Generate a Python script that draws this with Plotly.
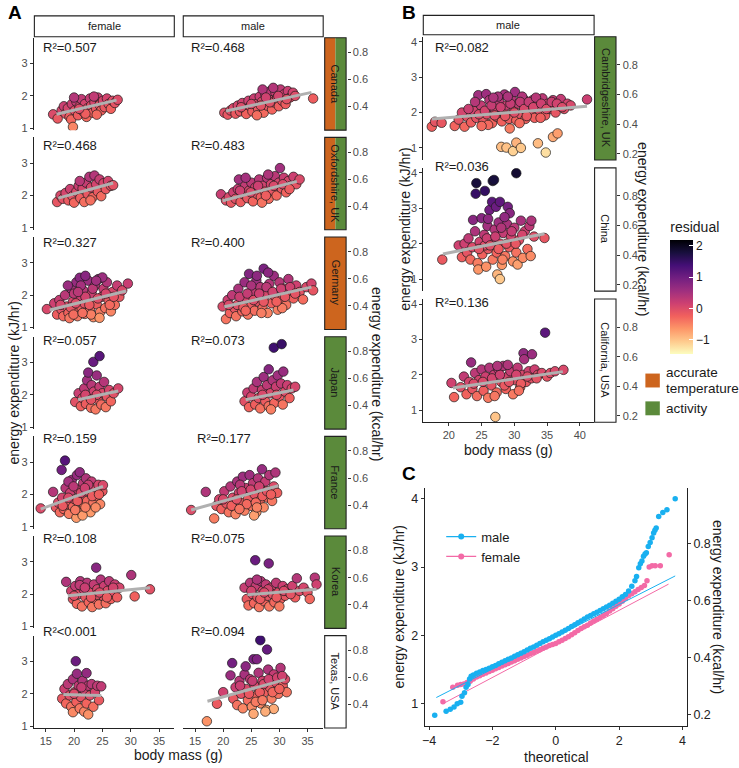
import numpy as np
import plotly.graph_objects as go

# ---------------- data ----------------
KJ_PER_KCAL = 4.184

# panel A: (body mass g, energy expenditure kJ/hr) per site and sex
sites_a = ["Canada", "Oxfordshire, UK", "Germany", "Japan", "France", "Korea", "Texas, USA"]
site_flags_a = [["temp", "activity"], ["temp", "activity"], ["temp"], ["activity"],
                ["activity"], ["activity"], []]
r2_female = ["R²=0.507", "R²=0.468", "R²=0.327", "R²=0.057", "R²=0.159", "R²=0.108", "R²<0.001"]
r2_male = ["R²=0.468", "R²=0.483", "R²=0.400", "R²=0.073", "R²=0.177", "R²=0.075", "R²=0.094"]
# fitted lines (start, end) as drawn in each panel
fit_female_a = [((16.9, 1.43), (27.5, 1.87)), ((17.2, 1.92), (26.9, 2.39)), ((15.7, 1.54), (29.2, 2.13)),
                ((20.7, 1.85), (27.8, 2.12)), ((14.1, 1.55), (25.1, 2.25)), ((18.9, 1.95), (33.4, 2.20)),
                ((18.1, 1.98), (24.8, 1.95))]
fit_male_a = [((20.5, 1.53), (35.7, 2.11)), ((19.9, 1.84), (33.1, 2.44)), ((20.2, 1.64), (35.7, 2.25)),
              ((24.0, 1.85), (32.5, 2.15)), ((14.3, 1.52), (29.8, 2.27)), ((24.3, 1.98), (36.6, 2.15)),
              ((17.2, 1.77), (31.0, 2.44))]

can_f = [(16.3, 1.43), (17.1, 1.30), (17.8, 1.55), (18.2, 1.68), (18.5, 1.45), (18.9, 1.62),
         (19.2, 1.35), (19.5, 1.27), (19.8, 1.04), (19.6, 1.75), (20.1, 1.55), (20.4, 1.82),
         (20.7, 1.40), (21.0, 1.68), (21.3, 1.90), (21.6, 1.52), (21.9, 1.75), (22.2, 1.35),
         (22.4, 1.62), (22.8, 1.92), (23.0, 1.70), (23.3, 1.48), (23.6, 1.80), (23.9, 1.60),
         (24.2, 1.95), (24.5, 1.72), (24.8, 1.55), (25.1, 1.85), (25.4, 1.65), (25.8, 1.92),
         (26.1, 1.75), (26.5, 1.60), (26.8, 1.85), (27.2, 1.78), (27.7, 1.88), (20.0, 1.95),
         (22.0, 1.45), (23.5, 1.98), (20.9, 1.60), (24.0, 1.42)]
can_m = [(20.2, 1.48), (20.8, 1.42), (21.3, 1.55), (21.8, 1.62), (22.2, 1.45), (22.6, 1.70),
         (23.0, 1.52), (23.4, 1.78), (23.8, 1.60), (24.1, 1.44), (24.5, 1.85), (24.8, 1.68),
         (25.2, 1.52), (25.5, 1.92), (25.9, 1.75), (26.2, 1.60), (26.5, 1.98), (26.9, 1.82),
         (27.2, 1.48), (27.5, 2.05), (27.8, 1.70), (28.1, 1.90), (28.4, 2.15), (28.7, 1.58),
         (29.0, 1.80), (29.3, 2.10), (29.6, 1.95), (29.9, 1.68), (30.2, 2.20), (30.5, 1.85),
         (30.8, 2.05), (31.1, 1.75), (31.5, 2.15), (31.9, 1.95), (32.4, 2.10), (32.8, 2.00),
         (36.0, 1.92), (26.0, 1.40), (27.0, 2.20), (28.9, 2.25), (23.2, 1.65), (25.0, 1.75),
         (26.7, 1.70), (28.3, 1.80), (29.8, 2.00), (31.3, 1.90), (27.6, 1.95)]
oxf_f = [(17.0, 1.80), (17.6, 2.00), (18.0, 1.90), (18.5, 2.08), (19.0, 1.85), (19.3, 2.20),
         (19.7, 1.98), (20.0, 1.78), (20.4, 2.12), (20.8, 2.30), (21.1, 1.92), (21.5, 2.22),
         (21.8, 1.80), (22.1, 2.40), (22.4, 2.05), (22.7, 2.58), (23.0, 2.25), (23.3, 1.95),
         (23.6, 2.62), (23.9, 2.35), (24.2, 2.12), (24.5, 2.50), (24.8, 1.98), (25.2, 2.38),
         (25.6, 2.20), (26.0, 2.45), (26.5, 2.30), (26.9, 2.32), (21.0, 2.45), (22.9, 1.85)]
oxf_m = [(19.6, 2.04), (20.5, 1.85), (21.0, 1.95), (21.4, 1.78), (21.8, 2.10), (22.2, 1.90),
         (22.8, 2.50), (22.6, 2.20), (23.1, 1.80), (23.5, 2.05), (23.9, 2.30), (24.3, 1.92),
         (24.6, 2.15), (25.0, 2.40), (25.3, 1.82), (25.7, 2.25), (26.0, 2.05), (26.4, 2.50),
         (26.7, 1.95), (27.0, 2.30), (27.4, 2.12), (27.8, 2.55), (28.1, 1.90), (28.5, 2.35),
         (28.8, 2.15), (29.2, 2.60), (29.5, 2.00), (29.9, 2.40), (30.1, 2.85), (30.4, 2.22),
         (30.8, 2.55), (31.2, 2.10), (31.6, 2.45), (32.0, 2.30), (32.5, 2.58), (33.0, 2.35),
         (33.6, 2.50), (24.0, 2.55), (26.9, 1.78), (28.0, 2.65), (23.0, 2.15), (24.9, 2.10),
         (26.2, 2.30), (27.6, 2.00), (29.0, 2.30), (30.6, 2.35), (31.8, 2.20)]
ger_f = [(15.2, 1.57), (16.5, 1.75), (17.0, 1.40), (17.4, 1.85), (17.8, 1.55), (18.1, 1.35),
         (18.4, 2.00), (18.7, 1.65), (19.0, 1.45), (19.2, 1.29), (19.5, 2.20), (19.8, 1.80),
         (20.1, 1.52), (20.4, 2.40), (20.6, 1.35), (20.9, 1.95), (21.0, 2.54), (21.3, 1.62),
         (21.6, 2.15), (21.9, 1.42), (22.2, 1.85), (22.5, 2.45), (22.8, 1.55), (23.1, 2.05),
         (23.4, 1.32), (23.7, 2.30), (24.0, 1.72), (24.3, 2.50), (24.6, 1.48), (24.9, 1.95),
         (25.2, 2.20), (25.5, 1.60), (25.8, 2.40), (26.1, 1.85), (26.5, 1.50), (26.8, 2.10),
         (27.2, 1.70), (27.6, 2.30), (28.0, 1.95), (28.5, 2.15), (29.5, 2.36), (20.0, 2.05),
         (22.0, 2.60), (23.0, 1.40), (24.5, 1.30), (18.9, 2.30), (21.8, 1.75), (25.0, 2.55),
         (17.6, 1.70), (19.4, 1.62), (20.3, 1.75), (21.2, 2.30), (22.0, 1.95), (22.7, 1.70),
         (23.3, 2.20), (24.2, 1.90), (25.6, 2.05), (26.3, 1.70), (27.0, 1.95), (19.9, 1.40),
         (21.5, 1.45), (23.9, 2.45), (20.7, 2.10)]
ger_m = [(19.9, 1.65), (20.5, 1.26), (20.8, 1.85), (21.2, 1.45), (21.6, 2.00), (22.0, 1.60),
         (22.3, 1.35), (22.7, 2.20), (23.0, 1.75), (23.4, 1.50), (23.8, 2.40), (24.1, 1.90),
         (24.6, 2.66), (24.4, 1.40), (24.9, 1.65), (25.2, 2.10), (25.6, 1.52), (25.9, 2.45),
         (26.2, 1.80), (26.6, 2.25), (27.0, 1.60), (27.2, 2.82), (27.5, 2.00), (27.9, 1.45),
         (28.2, 2.35), (28.6, 1.75), (29.0, 2.60), (29.3, 1.95), (29.7, 1.55), (30.0, 2.40),
         (30.4, 1.85), (30.8, 2.20), (31.2, 1.70), (31.6, 2.50), (32.0, 2.05), (32.5, 1.90),
         (33.0, 2.30), (33.6, 2.10), (34.2, 1.87), (34.8, 2.25), (35.7, 2.36), (36.0, 2.15),
         (26.0, 2.60), (28.0, 2.70), (22.5, 1.70), (30.5, 1.60), (25.0, 2.30), (21.0, 1.70),
         (22.9, 1.95), (23.6, 1.62), (24.3, 2.05), (25.4, 1.85), (26.4, 2.05), (27.2, 1.80),
         (27.7, 2.25), (28.8, 2.10), (29.5, 1.80), (30.3, 2.20), (31.0, 1.95), (31.9, 2.25),
         (32.8, 2.05), (26.8, 1.45), (24.0, 1.52)]
jpn_f = [(20.2, 1.78), (20.8, 2.05), (21.2, 1.65), (21.5, 1.90), (21.8, 2.20), (22.1, 1.72),
         (22.3, 2.45), (22.5, 2.69), (22.7, 1.95), (23.0, 1.60), (23.1, 2.30), (23.4, 3.02),
         (23.5, 2.10), (23.8, 1.55), (24.0, 2.60), (24.2, 1.85), (24.5, 3.20), (24.5, 2.25),
         (24.8, 1.70), (25.0, 2.05), (25.3, 2.40), (25.6, 1.62), (25.8, 1.95), (26.2, 2.15),
         (26.5, 1.80), (27.0, 2.05), (27.8, 2.20), (22.0, 2.00), (24.0, 2.00), (23.0, 1.85)]
jpn_m = [(23.8, 1.80), (24.3, 2.07), (24.6, 1.62), (25.0, 1.95), (25.4, 2.20), (25.7, 1.70),
         (26.0, 2.40), (26.3, 1.90), (26.6, 1.58), (26.9, 2.15), (27.2, 2.55), (27.5, 1.80),
         (27.8, 2.30), (28.1, 2.79), (28.1, 1.65), (28.4, 2.05), (28.8, 2.45), (29.0, 3.46),
         (29.1, 1.75), (29.4, 2.25), (29.7, 2.60), (30.0, 1.95), (30.4, 3.57), (30.3, 2.35),
         (30.7, 2.72), (30.6, 1.70), (31.0, 2.10), (31.4, 2.30), (31.8, 1.90), (32.2, 2.20),
         (32.8, 2.25), (27.0, 2.00), (28.5, 1.55), (29.5, 2.00)]
fra_f = [(14.1, 1.57), (16.3, 2.08), (16.8, 1.60), (17.2, 1.75), (17.5, 1.45), (17.8, 2.76),
         (17.9, 1.90), (18.2, 1.55), (18.4, 3.05), (18.5, 2.20), (18.8, 1.70), (19.1, 1.40),
         (19.3, 2.05), (19.6, 2.45), (19.8, 1.62), (20.1, 1.85), (20.4, 1.28), (20.5, 2.60),
         (20.7, 2.15), (21.0, 1.50), (21.0, 2.69), (21.3, 1.95), (21.6, 2.35), (21.8, 1.65),
         (22.1, 2.50), (22.3, 1.80), (22.6, 2.10), (22.9, 1.45), (23.1, 2.40), (23.4, 1.75),
         (23.7, 2.20), (24.0, 1.95), (24.3, 2.30), (24.6, 1.70), (25.0, 2.10), (25.1, 2.29),
         (19.0, 2.40), (21.5, 1.35), (18.0, 1.65), (19.0, 1.90), (19.9, 2.25), (20.6, 1.80),
         (21.2, 2.05), (22.0, 1.60), (22.5, 2.30), (23.2, 1.95), (23.8, 1.60), (24.4, 2.00),
         (20.2, 1.52), (21.9, 2.20)]
fra_m = [(14.3, 1.52), (16.9, 2.08), (18.4, 1.26), (18.8, 1.65), (19.3, 1.85), (19.7, 1.55),
         (20.2, 2.10), (20.6, 1.72), (21.0, 1.45), (21.3, 2.25), (21.7, 1.90), (22.0, 1.60),
         (22.2, 1.39), (22.5, 2.40), (22.8, 2.05), (23.1, 1.75), (23.5, 2.55), (23.8, 1.50),
         (24.0, 2.20), (24.4, 1.85), (24.7, 2.60), (25.0, 1.65), (25.3, 2.35), (25.6, 2.00),
         (25.9, 1.45), (26.2, 2.50), (26.5, 1.80), (26.9, 2.78), (26.8, 2.15), (27.2, 1.60),
         (27.5, 2.40), (27.9, 1.90), (28.2, 2.60), (28.7, 1.80), (29.0, 2.25), (29.3, 2.68),
         (29.6, 2.05), (23.0, 2.30), (25.5, 1.35), (20.0, 1.85), (21.5, 1.65), (22.4, 1.85),
         (23.3, 2.10), (24.2, 1.70), (24.9, 2.15), (25.8, 1.75), (26.4, 2.25), (27.0, 1.95),
         (27.8, 2.10), (28.5, 2.00), (22.9, 1.55), (26.0, 1.60)]
kor_f = [(18.6, 2.38), (19.5, 2.10), (19.8, 1.85), (20.2, 2.25), (20.5, 1.70), (20.8, 2.00),
         (21.1, 2.40), (21.4, 1.62), (21.7, 2.15), (22.0, 1.90), (22.3, 2.35), (22.6, 1.75),
         (22.9, 2.05), (23.2, 1.60), (23.5, 2.30), (23.9, 2.82), (23.8, 1.85), (24.1, 2.15),
         (24.4, 1.68), (24.7, 2.45), (25.0, 1.95), (25.3, 2.25), (25.6, 1.72), (25.9, 2.10),
         (26.2, 2.40), (26.5, 1.85), (26.8, 2.05), (27.2, 2.30), (27.6, 1.90), (28.0, 2.20),
         (30.1, 2.59), (30.7, 1.93), (33.4, 2.15), (21.0, 2.28), (24.0, 1.98), (20.0, 1.95),
         (21.9, 2.20), (23.0, 1.90), (24.5, 2.05), (25.8, 1.90), (26.9, 2.20)]
kor_m = [(23.8, 2.20), (24.2, 1.85), (24.5, 1.65), (24.8, 2.35), (25.2, 2.00), (25.5, 1.72),
         (25.7, 3.05), (25.8, 2.25), (26.1, 1.90), (26.4, 1.60), (26.7, 2.40), (27.0, 2.10),
         (27.3, 1.78), (27.6, 2.30), (27.9, 1.95), (28.1, 2.95), (28.2, 1.62), (28.5, 2.20),
         (28.8, 2.00), (29.1, 1.75), (29.4, 2.35), (29.8, 2.05), (30.2, 1.85), (30.6, 2.25),
         (31.0, 1.95), (31.4, 2.15), (31.8, 2.05), (32.3, 2.25), (32.8, 1.90), (33.1, 2.49),
         (33.6, 2.10), (34.3, 2.20), (35.0, 2.05), (35.4, 1.85), (36.3, 2.51), (36.6, 2.30),
         (26.0, 2.45), (30.0, 1.62), (25.0, 2.10), (26.6, 1.85), (28.0, 2.15), (29.5, 1.90),
         (30.8, 2.10), (32.0, 2.00), (27.3, 2.05)]
tex_f = [(17.9, 1.85), (18.3, 2.15), (18.6, 1.70), (18.9, 2.30), (19.2, 1.95), (19.5, 1.60),
         (19.8, 1.43), (19.8, 2.45), (20.1, 2.05), (20.3, 3.01), (20.4, 1.75), (20.5, 2.62),
         (20.8, 2.25), (21.0, 1.55), (21.2, 1.90), (21.5, 2.40), (21.8, 1.45), (21.9, 2.10),
         (22.2, 2.64), (22.2, 1.70), (22.5, 1.36), (22.5, 2.25), (22.8, 1.95), (23.1, 2.30),
         (23.4, 1.60), (23.7, 2.05), (24.1, 2.25), (24.4, 1.80), (24.8, 2.23), (20.0, 2.00),
         (21.3, 2.20)]
tex_m = [(17.1, 1.15), (18.9, 1.69), (20.0, 2.05), (21.3, 2.57), (21.6, 2.95), (21.8, 1.85),
         (22.2, 2.20), (22.5, 1.65), (22.9, 2.40), (23.2, 2.00), (23.5, 1.55), (23.8, 2.60),
         (24.1, 2.15), (24.4, 1.80), (24.8, 2.45), (25.1, 1.60), (25.4, 3.07), (25.4, 1.38),
         (25.6, 2.25), (26.0, 3.07), (26.0, 1.95), (26.3, 2.65), (26.6, 3.66), (26.7, 1.70),
         (27.0, 2.40), (27.3, 2.05), (27.8, 3.37), (27.7, 1.50), (28.0, 2.75), (28.3, 2.20),
         (28.6, 1.85), (29.0, 1.53), (29.0, 2.60), (29.4, 2.35), (29.8, 2.00), (30.2, 2.80),
         (30.6, 2.25), (31.0, 2.45), (31.3, 2.05), (24.0, 2.85), (27.5, 1.45), (23.0, 2.25),
         (24.6, 2.00), (25.2, 2.40), (26.5, 2.05), (27.2, 2.30), (28.1, 2.45), (28.8, 2.05),
         (29.6, 2.50), (30.0, 2.15), (25.8, 1.75), (27.0, 1.80), (30.5, 2.55)]

# panel B: males only
sites_b = ["Cambridgeshire, UK", "China", "California, USA"]
site_flags_b = [["activity"], [], []]
r2_b = ["R²=0.082", "R²=0.036", "R²=0.136"]
fit_b = [((17.4, 1.82), (41.1, 2.18)), ((19.1, 1.71), (34.6, 2.28)), ((20.6, 1.63), (37.4, 2.09))]

cam_m = [(17.4, 1.60), (17.9, 1.74), (18.9, 1.71), (20.9, 1.62), (22.4, 1.60), (21.5, 1.80),
         (22.8, 1.88), (23.4, 1.72), (23.8, 2.05), (24.5, 2.49), (24.2, 1.85), (24.9, 2.20),
         (25.3, 1.78), (25.7, 2.52), (25.8, 1.95), (26.2, 2.35), (26.6, 1.70), (27.0, 2.10),
         (27.3, 1.88), (27.7, 2.30), (28.0, 1.03), (28.1, 1.75), (28.5, 2.51), (28.4, 2.00),
         (28.8, 1.01), (28.8, 2.20), (29.2, 1.82), (29.3, 1.55), (29.6, 2.40), (29.8, 0.91),
         (29.9, 2.05), (30.1, 2.58), (30.3, 1.15), (30.3, 1.78), (30.6, 2.25), (31.0, 1.00),
         (31.0, 1.95), (31.4, 2.38), (31.7, 1.82), (32.0, 2.15), (32.4, 2.00), (32.8, 2.35),
         (33.1, 1.85), (33.6, 1.13), (33.5, 2.20), (33.9, 2.05), (34.3, 2.40), (34.7, 1.92),
         (34.8, 0.87), (35.1, 2.25), (35.5, 2.10), (35.9, 1.31), (35.9, 2.35), (36.3, 2.00),
         (36.6, 1.41), (36.7, 2.20), (37.1, 2.38), (37.6, 2.10), (38.1, 2.25), (38.6, 2.20),
         (41.1, 2.37), (26.0, 1.65), (27.5, 2.45), (30.8, 1.70), (24.0, 2.30), (22.0, 2.00),
         (25.0, 1.62), (31.2, 2.45), (34.0, 1.85), (23.0, 2.10), (24.6, 1.95), (25.5, 2.05),
         (26.5, 2.20), (27.0, 1.92), (27.9, 2.15), (28.6, 1.90), (29.4, 2.25), (30.0, 2.00),
         (30.9, 2.30), (31.5, 2.10), (32.2, 2.30), (32.9, 2.15), (33.3, 2.42), (34.1, 2.25),
         (34.9, 2.10), (35.7, 2.30), (36.5, 2.25), (37.3, 2.15), (26.8, 2.42), (29.0, 2.45),
         (31.9, 1.90)]
chn_m = [(19.0, 1.55), (21.5, 1.95), (22.0, 1.62), (22.4, 2.00), (22.8, 1.75), (23.0, 2.15),
         (23.3, 1.55), (23.7, 2.67), (23.6, 1.90), (24.0, 2.35), (24.1, 3.41), (24.2, 3.71),
         (24.4, 1.45), (24.5, 1.27), (24.7, 2.05), (25.0, 2.72), (25.1, 1.70), (25.4, 2.25),
         (25.5, 3.49), (25.7, 1.35), (25.9, 2.50), (26.0, 1.85), (26.2, 2.95), (26.4, 2.10),
         (26.6, 3.18), (26.7, 3.77), (26.9, 3.80), (26.7, 1.55), (27.0, 2.40), (27.2, 3.04),
         (27.3, 1.75), (27.4, 1.13), (27.6, 2.60), (27.8, 3.18), (27.8, 1.00), (27.8, 2.00),
         (28.1, 1.40), (28.3, 2.30), (28.6, 1.65), (28.9, 2.55), (29.0, 3.04), (29.2, 1.90),
         (29.3, 2.86), (29.5, 2.20), (29.8, 1.50), (30.0, 2.45), (30.3, 3.99), (30.3, 1.75),
         (30.5, 1.41), (30.7, 2.10), (31.0, 2.65), (31.3, 1.60), (31.6, 2.35), (32.0, 1.85),
         (32.3, 2.50), (32.6, 2.65), (32.5, 1.65), (33.0, 2.20), (34.6, 2.16), (25.5, 1.95),
         (28.5, 2.75), (24.6, 1.85), (25.8, 2.15), (26.3, 1.95), (27.1, 2.20), (27.6, 1.85),
         (28.0, 2.45), (28.8, 2.00), (29.6, 2.35), (30.2, 2.00), (31.2, 2.25), (26.0, 2.70),
         (28.2, 1.55)]
cal_m = [(20.4, 1.77), (20.8, 1.37), (21.8, 1.65), (22.3, 1.95), (22.7, 1.45), (23.1, 1.80),
         (23.4, 2.35), (23.6, 1.60), (24.0, 2.05), (24.3, 1.40), (24.6, 1.85), (25.0, 2.15),
         (25.3, 1.55), (25.6, 1.95), (26.0, 1.35), (26.2, 2.20), (26.5, 1.70), (26.9, 2.00),
         (27.1, 0.81), (27.3, 1.50), (27.6, 2.15), (28.0, 1.80), (28.3, 2.25), (28.7, 1.60),
         (29.0, 1.95), (29.4, 2.10), (29.8, 1.45), (30.1, 1.85), (30.5, 2.20), (30.9, 1.65),
         (31.3, 2.00), (31.4, 2.61), (31.5, 2.44), (31.8, 1.80), (32.2, 2.10), (32.7, 2.58),
         (32.6, 1.90), (33.1, 2.15), (33.6, 2.00), (34.2, 2.05), (34.7, 3.19), (35.0, 1.95),
         (35.5, 2.05), (36.2, 2.10), (37.5, 2.14), (27.0, 1.40), (29.0, 2.28), (23.8, 1.75),
         (25.2, 1.80), (26.6, 1.90), (27.8, 2.00), (28.5, 1.70), (29.2, 1.80), (30.3, 2.00),
         (31.0, 1.75), (32.0, 1.95), (33.4, 1.90), (27.4, 2.25), (30.7, 1.55)]

# panel C: normal QQ plot (theoretical quantile, energy expenditure kJ/hr)
qq_male = [(-3.82, 0.83), (-3.46, 0.89), (-3.33, 0.92), (-3.21, 0.95), (-3.11, 1.00), (-3.00, 1.02),
           (-2.96, 1.11), (-2.88, 1.16), (-2.83, 1.24), (-2.77, 1.28), (-2.72, 1.36), (-2.67, 1.40),
           (-2.6, 1.42), (-2.5, 1.445), (-2.4, 1.465), (-2.3, 1.485), (-2.2, 1.50), (-2.1, 1.52),
           (-2.0, 1.54), (-1.9, 1.56), (-1.8, 1.585), (-1.7, 1.605), (-1.6, 1.63), (-1.5, 1.65),
           (-1.4, 1.67), (-1.3, 1.695), (-1.2, 1.715), (-1.1, 1.74), (-1.0, 1.76), (-0.9, 1.785),
           (-0.8, 1.81), (-0.7, 1.83), (-0.6, 1.855), (-0.5, 1.88), (-0.4, 1.905), (-0.3, 1.93),
           (-0.2, 1.95), (-0.1, 1.975), (0.0, 2.00), (0.1, 2.025), (0.2, 2.05), (0.3, 2.075),
           (0.4, 2.10), (0.5, 2.13), (0.6, 2.155), (0.7, 2.185), (0.8, 2.21), (0.9, 2.24),
           (1.0, 2.27), (1.1, 2.29), (1.2, 2.315), (1.3, 2.34), (1.4, 2.365), (1.5, 2.39),
           (1.6, 2.415), (1.7, 2.44), (1.8, 2.47), (1.9, 2.50), (2.0, 2.53), (2.1, 2.565),
           (2.2, 2.60), (2.3, 2.65), (2.4, 2.72), (2.5, 2.80), (2.55, 2.86), (2.62, 2.99),
           (2.67, 3.05), (2.72, 3.09), (2.77, 3.16), (2.82, 3.19), (2.86, 3.21), (2.92, 3.30),
           (2.98, 3.36), (3.04, 3.43), (3.09, 3.50), (3.13, 3.54), (3.17, 3.57), (3.25, 3.74),
           (3.38, 3.80), (3.51, 3.84), (3.77, 4.00)]
qq_female = [(-3.56, 1.03), (-3.25, 1.24), (-3.10, 1.27), (-3.00, 1.28), (-2.9, 1.29), (-2.8, 1.31),
             (-2.7, 1.33), (-2.6, 1.36), (-2.5, 1.39), (-2.4, 1.41), (-2.3, 1.43), (-2.2, 1.45),
             (-2.1, 1.47), (-2.0, 1.49), (-1.9, 1.51), (-1.8, 1.53), (-1.7, 1.55), (-1.6, 1.57),
             (-1.5, 1.59), (-1.4, 1.61), (-1.3, 1.63), (-1.2, 1.65), (-1.1, 1.67), (-1.0, 1.69),
             (-0.9, 1.71), (-0.8, 1.73), (-0.7, 1.75), (-0.6, 1.77), (-0.5, 1.79), (-0.4, 1.81),
             (-0.3, 1.83), (-0.2, 1.85), (-0.1, 1.865), (0.0, 1.88), (0.1, 1.905), (0.2, 1.93),
             (0.3, 1.955), (0.4, 1.98), (0.5, 2.01), (0.6, 2.04), (0.7, 2.07), (0.8, 2.10),
             (0.9, 2.125), (1.0, 2.15), (1.1, 2.18), (1.2, 2.21), (1.3, 2.235), (1.4, 2.26),
             (1.5, 2.29), (1.6, 2.32), (1.7, 2.355), (1.8, 2.39), (1.9, 2.425), (2.0, 2.46),
             (2.1, 2.50), (2.2, 2.54), (2.3, 2.58), (2.4, 2.61), (2.5, 2.64), (2.6, 2.67),
             (2.7, 2.70), (2.8, 2.73), (2.88, 2.80), (2.95, 3.00), (3.04, 3.02), (3.14, 3.02),
             (3.30, 3.02), (3.58, 3.18)]
qqline_male = [(-3.77, 1.09), (3.77, 2.87)]
qqline_female = [(-3.56, 1.00), (3.56, 2.75)]

# ---------------- styling ----------------
W, H = 739, 768
FONT = "Liberation Sans, Arial, sans-serif"
ORANGE = "#cd651e"
GREEN = "#5b8a3b"
BLUE = "#19b0f0"
PINK = "#f36aa6"
magma = ["#000004", "#180f3d", "#440f76", "#721f81", "#9e2f7f",
         "#cd4071", "#f1605d", "#fd9668", "#feca8d", "#fcfdbf"]


def px(x):
    return x / W


def py(y):
    return 1 - y / H


fig = go.Figure()
lay = {}
shapes = []
notes = []
nx = 0
ny = 0

tick_font = dict(family=FONT, size=11, color="#4d4d4d")


def new_x(dom, rng, show):
    global nx
    nx += 1
    name = "xaxis" if nx == 1 else f"xaxis{nx}"
    ref = "x" if nx == 1 else f"x{nx}"
    lay[name] = dict(domain=[px(dom[0]), px(dom[1])], range=rng, showgrid=False, zeroline=False,
                     showline=show, linecolor="#222", linewidth=1,
                     ticks="outside" if show else "", ticklen=3, tickcolor="#333",
                     showticklabels=show, tickfont=tick_font)
    return name, ref


def new_y(dom, rng, show):
    global ny
    ny += 1
    name = "yaxis" if ny == 1 else f"yaxis{ny}"
    ref = "y" if ny == 1 else f"y{ny}"
    lay[name] = dict(domain=[py(dom[1]), py(dom[0])], range=rng, showgrid=False, zeroline=False,
                     showline=show, linecolor="#222", linewidth=1,
                     ticks="outside" if show else "", ticklen=3, tickcolor="#333",
                     showticklabels=show, tickfont=tick_font)
    return name, ref


def kcal_axis(over_ref, xref, yrng, pos, vals):
    global ny
    ny += 1
    name = f"yaxis{ny}"
    ref = f"y{ny}"
    lay[name] = dict(overlaying=over_ref, side="right", anchor="free", position=px(pos),
                     range=[yrng[0] / KJ_PER_KCAL, yrng[1] / KJ_PER_KCAL], tickvals=vals,
                     showgrid=False, zeroline=False, showline=False, ticks="outside",
                     ticklen=3, tickcolor="#333", tickfont=tick_font)
    fig.add_trace(go.Scatter(x=[], y=[], xaxis=xref, yaxis=ref, showlegend=False,
                             hoverinfo="skip"))


def scatter_panel(pts, fit, xref, yref):
    mass = np.array([p[0] for p in pts])
    ee = np.array([p[1] for p in pts])
    (fx0, fy0), (fx1, fy1) = fit
    slope = (fy1 - fy0) / (fx1 - fx0)
    resid = ee - (fy0 + slope * (mass - fx0))
    fig.add_trace(go.Scatter(x=mass, y=ee, mode="markers", xaxis=xref, yaxis=yref,
                             showlegend=False,
                             marker=dict(size=9.5, color=resid, coloraxis="coloraxis",
                                         line=dict(color="#1a1a1a", width=0.7))))
    fig.add_trace(go.Scatter(x=[fx0, fx1], y=[fy0, fy1], mode="lines", xaxis=xref, yaxis=yref,
                             showlegend=False, line=dict(color="#b0b0b0", width=3)))


def text(x, y, s, size=11, angle=0, xa="center", ya="middle", color="#1a1a1a", bold=False):
    notes.append(dict(x=px(x), y=py(y), xref="paper", yref="paper", text=f"<b>{s}</b>" if bold else s,
                      showarrow=False, textangle=angle, xanchor=xa, yanchor=ya,
                      font=dict(family=FONT, size=size, color=color)))


def box(x0, y0, x1, y1, fill="white", lw=1.1):
    shapes.append(dict(type="rect", xref="paper", yref="paper", x0=px(x0), x1=px(x1),
                       y0=py(y1), y1=py(y0), fillcolor=fill, line=dict(color="#222", width=lw),
                       layer="below"))


def side_strip(x0, x1, y0, y1, flags, label):
    if flags == ["temp", "activity"]:
        xm = (x0 + x1) / 2
        shapes.append(dict(type="rect", xref="paper", yref="paper", x0=px(x0), x1=px(xm),
                           y0=py(y1), y1=py(y0), fillcolor=ORANGE, line=dict(width=0), layer="below"))
        shapes.append(dict(type="rect", xref="paper", yref="paper", x0=px(xm), x1=px(x1),
                           y0=py(y1), y1=py(y0), fillcolor=GREEN, line=dict(width=0), layer="below"))
        shapes.append(dict(type="rect", xref="paper", yref="paper", x0=px(x0), x1=px(x1),
                           y0=py(y1), y1=py(y0), line=dict(color="#222", width=1.1)))
    else:
        fill = ORANGE if flags == ["temp"] else GREEN if flags == ["activity"] else "white"
        box(x0, y0, x1, y1, fill)
    text((x0 + x1) / 2, (y0 + y1) / 2, label, size=11, angle=90)


# ---------------- panel A ----------------
rows_a = [(can_f, can_m), (oxf_f, oxf_m), (ger_f, ger_m), (jpn_f, jpn_m),
          (fra_f, fra_m), (kor_f, kor_m), (tex_f, tex_m)]
yr_a = [0.94, 3.8]
xr_a = [12.9, 37.7]
r2_y_a = [47, 145, 243, 342, 440, 541, 635]
for r, (fem, mal) in enumerate(rows_a):
    top = 37 + 100.3 * r
    bot = top + 93
    last = r == len(rows_a) - 1
    refs = []
    for c, (pts, fit) in enumerate(((fem, fit_female_a[r]), (mal, fit_male_a[r]))):
        x0, x1 = (31, 172) if c == 0 else (181, 321)
        xname, xref = new_x((x0, x1), xr_a, last)
        yname, yref = new_y((top, bot), yr_a, c == 0)
        lay[xname]["anchor"] = yref
        lay[yname]["anchor"] = xref
        if last:
            lay[xname]["tickvals"] = [15, 20, 25, 30, 35]
        if c == 0:
            lay[yname]["tickvals"] = [1, 2, 3]
        scatter_panel(pts, fit, xref, yref)
        refs.append((xref, yref))
    kcal_axis(refs[1][1], refs[1][0], yr_a, 345, [0.4, 0.6, 0.8])
    side_strip(323, 344.5, top, bot, site_flags_a[r], sites_a[r])
    text(38, r2_y_a[r], r2_female[r], size=13, xa="left")
    text(192.5 if r == 4 else 186.5, r2_y_a[r], r2_male[r], size=13, xa="left")

box(31.5, 15, 172, 36)
box(181, 15, 321.5, 36)
text(101.5, 25.5, "female")
text(251, 25.5, "male")
text(11, 384, "energy expenditure (kJ/hr)", size=14, angle=-90)
text(376, 376, "energy expenditure (kcal/hr)", size=14, angle=90)
text(176, 759, "body mass (g)", size=14)
text(12, 12, "A", size=19, color="black", bold=True)

# ---------------- panel B ----------------
rows_b = [cam_m, chn_m, cal_m]
yr_b = [0.66, 4.14]
xr_b = [16.1, 42.1]
r2_y_b = [47, 167, 303]
for r, pts in enumerate(rows_b):
    top = 36 + 132 * r
    bot = top + 124
    last = r == len(rows_b) - 1
    xname, xref = new_x((422, 593), xr_b, last)
    yname, yref = new_y((top, bot), yr_b, True)
    lay[xname]["anchor"] = yref
    lay[yname]["anchor"] = xref
    lay[yname]["tickvals"] = [1, 2, 3, 4]
    if last:
        lay[xname]["tickvals"] = [20, 25, 30, 35, 40]
    scatter_panel(pts, fit_b[r], xref, yref)
    kcal_axis(yref, xref, yr_b, 616, [0.2, 0.4, 0.6, 0.8])
    side_strip(594, 615.5, top, bot, site_flags_b[r], sites_b[r])
    text(431.5, r2_y_b[r], r2_b[r], size=13, xa="left")

box(422, 14.5, 593.5, 34)
text(507.5, 24.5, "male")
text(403, 230, "energy expenditure (kJ/hr)", size=14, angle=-90)
text(643, 230, "energy expenditure (kcal/hr)", size=14, angle=90)
text(508, 452, "body mass (g)", size=14)
text(408, 12, "B", size=19, color="black", bold=True)

# legend for strip colours
shapes.append(dict(type="rect", xref="paper", yref="paper", x0=px(645), x1=px(659.5),
                   y0=py(389), y1=py(375), fillcolor=ORANGE, line=dict(width=0)))
shapes.append(dict(type="rect", xref="paper", yref="paper", x0=px(645), x1=px(659.5),
                   y0=py(417), y1=py(403), fillcolor=GREEN, line=dict(width=0)))
text(664, 374, "accurate", size=13.5, xa="left")
text(664, 390, "temperature", size=13.5, xa="left")
text(664, 410, "activity", size=13.5, xa="left")

# ---------------- panel C ----------------
c_font = dict(family=FONT, size=12.5, color="#222")
xname, xref = new_x((423.3, 686.7), [-4.14, 4.14], True)
yname, yref = new_y((490, 729.3), [0.68, 4.16], True)
lay[xname].update(anchor=yref, tickvals=[-4, -2, 0, 2, 4], tickfont=c_font)
lay[yname].update(anchor=xref, tickvals=[1, 2, 3, 4], tickfont=c_font)
ny += 1
lay[f"yaxis{ny}"] = dict(overlaying=yref, side="right", anchor=xref,
                         range=[0.68 / KJ_PER_KCAL, 4.16 / KJ_PER_KCAL], tickvals=[0.2, 0.4, 0.6, 0.8],
                         showgrid=False, zeroline=False, showline=True, linecolor="#222", linewidth=1,
                         ticks="outside", ticklen=3, tickcolor="#333", tickfont=c_font)
fig.add_trace(go.Scatter(x=[], y=[], xaxis=xref, yaxis=f"y{ny}", showlegend=False, hoverinfo="skip"))

for pts, line_pts, col in ((qq_female, qqline_female, PINK), (qq_male, qqline_male, BLUE)):
    fig.add_trace(go.Scatter(x=[p[0] for p in pts], y=[p[1] for p in pts], mode="markers",
                             xaxis=xref, yaxis=yref, showlegend=False,
                             marker=dict(size=5.5, color=col)))
    fig.add_trace(go.Scatter(x=[p[0] for p in line_pts], y=[p[1] for p in line_pts], mode="lines",
                             xaxis=xref, yaxis=yref, showlegend=False, line=dict(color=col, width=1)))
for name, col in (("male", BLUE), ("female", PINK)):
    fig.add_trace(go.Scatter(x=[None], y=[None], mode="lines+markers", name=name, xaxis=xref, yaxis=yref,
                             line=dict(color=col, width=1.2), marker=dict(size=6, color=col)))

text(398, 610, "energy expenditure (kJ/hr)", size=14, angle=-90)
text(718, 610, "energy expenditure (kcal/hr)", size=14, angle=90)
text(556, 761, "theoretical", size=14)
text(408, 476, "C", size=19, color="black", bold=True)

fig.update_layout(
    width=W, height=H,
    margin=dict(l=0, r=0, t=0, b=0),
    paper_bgcolor="white",
    plot_bgcolor="rgba(0,0,0,0)",
    font=dict(family=FONT, color="#1a1a1a"),
    shapes=shapes,
    annotations=notes,
    showlegend=True,
    legend=dict(x=px(440), y=py(524), xanchor="left", yanchor="top", bgcolor="rgba(0,0,0,0)",
                font=dict(family=FONT, size=13, color="#1a1a1a"), itemwidth=30, tracegroupgap=0),
    coloraxis=dict(
        colorscale=magma[::-1], cmin=-1.45, cmax=2.2,
        colorbar=dict(x=px(670), xanchor="left", y=py(355), yanchor="bottom",
                      len=135, lenmode="pixels", thickness=23, thicknessmode="pixels",
                      outlinewidth=0, xpad=0, ypad=0,
                      title=dict(text="residual", side="top", font=dict(family=FONT, size=14)),
                      tickvals=[-1, 0, 1, 2], ticks="inside", ticklen=4, tickcolor="white",
                      tickfont=dict(family=FONT, size=12, color="#1a1a1a")),
    ),
    **lay,
)

# the page's default body margin would push the 739x768 figure off the window
fig.write_html("out.html", config={"displayModeBar": False},
               post_script="document.body.style.margin = '0';")
